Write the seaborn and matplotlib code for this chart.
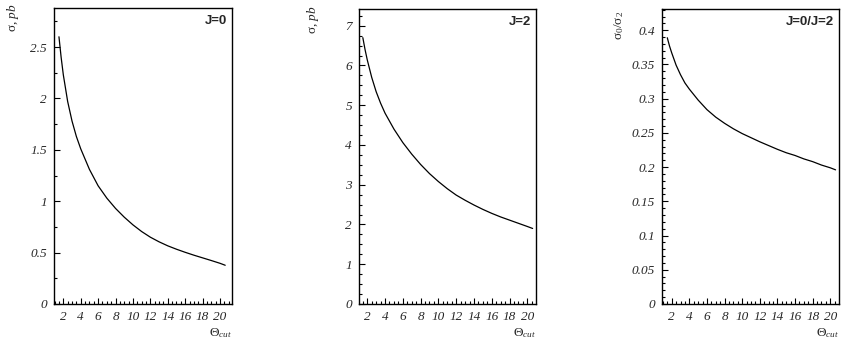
import numpy as np
import pandas as pd
import matplotlib
matplotlib.use("Agg")
import matplotlib.pyplot as plt
import seaborn as sns
from matplotlib.ticker import MultipleLocator, FormatStrFormatter

# values
theta = [1.5, 1.75, 2, 2.5, 3, 3.5, 4, 5, 6, 7, 8, 9, 10, 11, 12, 13, 14, 15, 16, 17, 18, 19, 20, 20.6]
sigma_j0 = [2.60, 2.40, 2.23, 1.97, 1.78, 1.63, 1.51, 1.31, 1.15, 1.03, 0.93, 0.845, 0.77, 0.705,
            0.65, 0.605, 0.566, 0.533, 0.503, 0.475, 0.449, 0.423, 0.396, 0.377]
sigma_j2 = [6.70, 6.40, 6.14, 5.70, 5.34, 5.05, 4.80, 4.40, 4.06, 3.77, 3.51, 3.28, 3.08, 2.90,
            2.74, 2.61, 2.49, 2.38, 2.28, 2.19, 2.11, 2.03, 1.95, 1.90]
ratio_02 = [0.389, 0.377, 0.367, 0.349, 0.335, 0.323, 0.314, 0.298, 0.284, 0.273, 0.264, 0.256,
            0.249, 0.243, 0.237, 0.2315, 0.226, 0.221, 0.217, 0.212, 0.208, 0.203, 0.199, 0.196]

tags = ["J=0", "J=2", "J=0/J=2"]
ylabels = ["σ, $\\mathit{pb}$", "σ, $\\mathit{pb}$", "σ$_{\\mathit{0}}$/σ$_{2}$"]

sns.set_theme(style="white")
plt.rcParams["font.family"] = ["Liberation Serif", "DejaVu Serif"]
plt.rcParams["mathtext.fontset"] = "custom"
plt.rcParams["mathtext.rm"] = "Liberation Serif"
plt.rcParams["mathtext.it"] = "Liberation Serif:italic"

W, H = 842, 345
fig = plt.figure(figsize=(W / 100, H / 100), dpi=100)

# pixel boxes (left, right, top, bottom) of each panel
boxes = [(54, 232, 8, 304), (359, 536, 9, 304), (662, 839, 9, 304)]
xlims = [(0.93, 21.38), (1.07, 20.98), (0.9, 20.99)]
ylims = [(0, 2.88), (0, 7.42), (0, 0.431)]
ymajor = [0.5, 1, 0.05]
yminor = [0.25, 0.25, 0.01]
ylab_x = [13, 313, 619]
ylab_y = [18, 20, 25]

df = pd.DataFrame({"theta": theta, "J=0": sigma_j0, "J=2": sigma_j2, "J=0/J=2": ratio_02})

for i, tag in enumerate(tags):
    l, r, t, b = boxes[i]
    ax = fig.add_axes([l / W, (H - b) / H, (r - l) / W, (b - t) / H])
    sns.lineplot(data=df, x="theta", y=tag, ax=ax, color="black", linewidth=0.9)
    ax.set_xlim(*xlims[i])
    ax.set_ylim(*ylims[i])
    ax.xaxis.set_major_locator(MultipleLocator(2))
    ax.xaxis.set_minor_locator(MultipleLocator(0.5))
    ax.yaxis.set_major_locator(MultipleLocator(ymajor[i]))
    ax.yaxis.set_minor_locator(MultipleLocator(yminor[i]))
    ax.yaxis.set_major_formatter(FormatStrFormatter("%g"))
    ax.tick_params(which="both", direction="in", bottom=True, left=True, top=False, right=False,
                   color="black", width=0.8)
    ax.tick_params(which="major", length=4, labelsize=9.5, pad=5)
    ax.tick_params(which="minor", length=2)
    for lab in ax.get_xticklabels() + ax.get_yticklabels():
        lab.set_fontstyle("italic")
    for sp in ax.spines.values():
        sp.set_color("black")
        sp.set_linewidth(1.0)
    ax.set_xlabel("")
    ax.set_ylabel("")
    ax.text(0.97, 0.975, tag, transform=ax.transAxes, ha="right", va="top",
            fontsize=9.5, fontweight="bold", family="Liberation Sans")
    fig.text(r / W, 1 - 333 / H, "Θ$_{\\mathit{cut}}$", ha="right", va="center", fontsize=9.5)
    fig.text(ylab_x[i] / W, 1 - ylab_y[i] / H, ylabels[i], rotation=90,
             ha="center", va="center", fontsize=9.5)

fig.savefig("out.png", dpi=100)
